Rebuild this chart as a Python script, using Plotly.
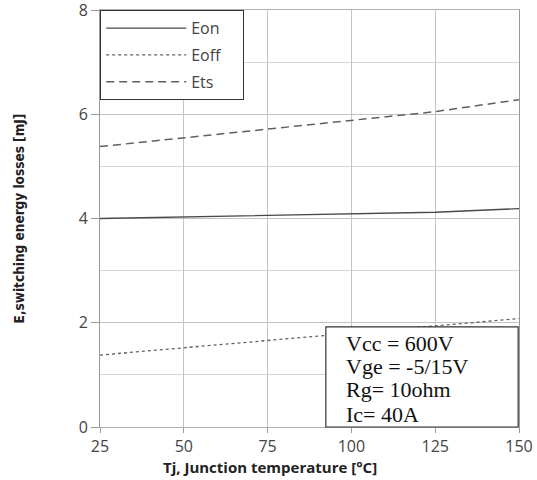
import plotly.graph_objects as go

tj = [25, 50, 75, 100, 125, 150]
eon = [4.00, 4.03, 4.06, 4.09, 4.12, 4.19]
eoff = [1.38, 1.52, 1.65, 1.79, 1.93, 2.08]
ets = [5.38, 5.55, 5.71, 5.88, 6.05, 6.28]

x_ticks = [25, 50, 75, 100, 125, 150]
y_ticks = [0, 2, 4, 6, 8]
cond_lines = ["Vcc = 600V", "Vge = -5/15V", "Rg= 10ohm", "Ic= 40A"]

PAD = "\u00a0" * 4

fig = go.Figure()
fig.add_trace(go.Scatter(x=tj, y=eon, name="Eon" + PAD, mode="lines", legendgroup="a",
                         line=dict(color="#4a4a4a", width=1.3, dash="solid")))
fig.add_trace(go.Scatter(x=tj, y=eoff, name="Eoff" + PAD, mode="lines", legendgroup="b",
                         line=dict(color="#606060", width=1.3, dash="3px,3px")))
fig.add_trace(go.Scatter(x=tj, y=ets, name="Ets" + PAD, mode="lines", legendgroup="c",
                         line=dict(color="#606060", width=1.5, dash="8px,5px")))

fig.update_layout(
    template="none",
    width=537, height=480,
    margin=dict(l=100, r=18, t=10, b=53),
    plot_bgcolor="white", paper_bgcolor="white",
    font=dict(family="Open Sans, DejaVu Sans, sans-serif", color="#444444"),
    showlegend=True,
    legend=dict(x=0.0, y=1.0, xanchor="left", yanchor="top",
                bgcolor="white", bordercolor="#333333", borderwidth=1.2,
                font=dict(size=16, color="#444444"),
                tracegroupgap=3, itemwidth=80),
    xaxis=dict(range=[25, 150], tickvals=x_ticks, ticktext=[str(v) for v in x_ticks],
               automargin=False, ticklabeloverflow="allow",
               showgrid=True, gridcolor="#c4c4c4", gridwidth=1,
               showline=True, linecolor="#b0b0b0", linewidth=1, mirror=True,
               ticks="outside", ticklen=5, tickcolor="#999999",
               tickfont=dict(size=16, color="#444444"),
               zeroline=False),
    yaxis=dict(range=[0, 8], tickvals=y_ticks, ticktext=[str(v) for v in y_ticks],
               automargin=False, ticklabeloverflow="allow",
               showgrid=True, gridcolor="#c4c4c4", gridwidth=1,
               minor=dict(tickvals=[1, 3, 5, 7], showgrid=True, gridcolor="#d4d4d4", gridwidth=1, ticks=""),
               showline=True, linecolor="#999999", linewidth=1, mirror=True,
               ticks="outside", ticklen=8, tickcolor="#999999",
               tickfont=dict(size=16, color="#444444"),
               zeroline=False,
               title=dict(text="<b>E,switching energy losses [mJ]</b>",
                          font=dict(size=13.5, color="#222222",
                                    family="Liberation Sans Narrow, DejaVu Sans Condensed, sans-serif"),
                          standoff=50)),
)

# x-axis title (centred under the figure as in the reference)
fig.add_annotation(
    xref="paper", yref="paper", x=0.406, y=-0.096, xanchor="center", yanchor="middle",
    text="<b>Tj, Junction temperature [°C]</b>", showarrow=False,
    font=dict(size=15, color="#222222", family="Open Sans, DejaVu Sans, sans-serif"),
)

# conditions box
fig.add_shape(type="rect", xref="paper", yref="paper", x0=0.539, x1=0.998, y0=0.0, y1=0.24,
              line=dict(color="#333333", width=1.2), fillcolor="white", layer="above")
line_y = [0.201, 0.144, 0.089, 0.031]
for txt, yy in zip(cond_lines, line_y):
    fig.add_annotation(
        xref="paper", yref="paper", x=0.583, y=yy, xanchor="left", yanchor="middle",
        text=txt, showarrow=False,
        font=dict(family="Liberation Serif, DejaVu Serif, serif", size=22, color="#111111"),
    )

fig.write_html("out.html", config={"displayModeBar": False},
               post_script="document.body.style.margin='0';document.body.style.overflow='hidden';")
